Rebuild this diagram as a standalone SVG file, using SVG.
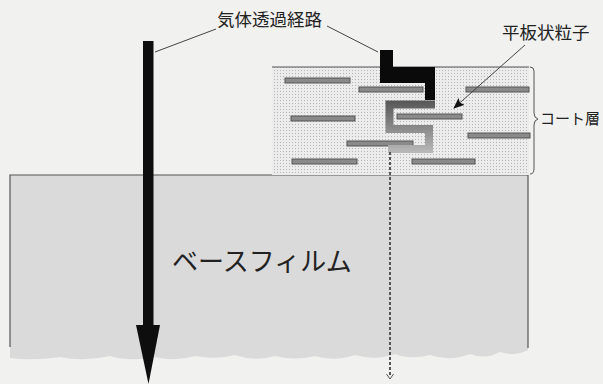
<svg xmlns="http://www.w3.org/2000/svg" width="603" height="384" viewBox="0 0 603 384">
<style>
.lbl{font-family:"Noto Sans CJK JP","Noto Sans CJK SC",sans-serif;fill:#222}
.lead{stroke:#444;stroke-width:1;fill:none}
.bar{fill:#8a8a8a;stroke:#555;stroke-width:1}
.edge{stroke:#555;stroke-width:1.2;fill:none}
</style>
<defs>
<pattern id="dots" width="3" height="3" patternUnits="userSpaceOnUse">
<rect width="3" height="3" fill="#ececec"/>
<rect x="1" y="1" width="1" height="1" fill="#b5b5b5"/>
</pattern>
<linearGradient id="pathGrad" gradientUnits="userSpaceOnUse" x1="0" y1="100" x2="0" y2="152">
<stop offset="0" stop-color="#555"/>
<stop offset="1" stop-color="#b8b8b8"/>
</linearGradient>
<marker id="tipS" markerWidth="11" markerHeight="9" refX="10" refY="4.5" orient="auto" markerUnits="userSpaceOnUse">
<path d="M0,0 L11,4.5 L0,9 L2,4.5 Z" fill="#111"/>
</marker>
</defs>
<rect width="603" height="384" fill="#f1f1f0"/>

<g id="base-film">
<path d="M10,175 H528 V350 Q515,357 500,352 Q485,360 470,354 Q450,362 430,355 Q410,360 395,354 Q375,361 355,355 Q335,362 315,356 Q295,361 275,356 Q255,362 235,355 Q215,360 195,356 Q175,362 155,357 Q130,362 110,356 Q85,362 60,357 Q35,361 10,358 Z" fill="#dadada"/>
<path class="edge" d="M10,347 V175 H528 V348"/>
<text class="lbl" x="172" y="271" font-size="26">ベースフィルム</text>
</g>

<g id="coat-layer">
<rect x="272" y="67" width="257" height="108" fill="url(#dots)"/>
<line class="edge" x1="272" y1="67" x2="529" y2="67"/>
<rect class="bar" x="285" y="78" width="65" height="5"/>
<rect class="bar" x="359" y="87" width="64" height="5"/>
<rect class="bar" x="466" y="87" width="63" height="5"/>
<rect class="bar" x="291" y="116" width="64" height="5"/>
<rect class="bar" x="397" y="114" width="65" height="5"/>
<rect class="bar" x="468" y="133" width="62" height="5"/>
<rect class="bar" x="347" y="141" width="66" height="5"/>
<rect class="bar" x="292" y="159" width="65" height="5"/>
<rect class="bar" x="412" y="159" width="63" height="5"/>
<path d="M530,67 Q534,67 534,71 V113 Q534,118 538,119 Q534,120 534,125 V169 Q534,174 530,174" fill="none" stroke="#555" stroke-width="1"/>
<text class="lbl" x="540" y="124" font-size="15">コート層</text>
</g>

<g id="gas-path">
<path d="M380,50 H393 V67 H435 V100 H425 V83 H380 Z" fill="#0a0a0a"/>
<polyline points="435,104.5 389.5,104.5 389.5,129 429,129 429,149 388,149" fill="none" stroke="url(#pathGrad)" stroke-width="8" stroke-linejoin="miter"/>
</g>

<g id="main-arrow">
<rect x="143" y="41" width="10.5" height="285" fill="#0e0e0e"/>
<path d="M136,325 H160 L148.5,384 Z" fill="#0e0e0e"/>
</g>

<g id="connectors">
<line x1="390" y1="152" x2="390" y2="376" stroke="#555" stroke-width="2" stroke-dasharray="3,2"/>
<path d="M386.5,374 L390,379 L393.5,374" fill="none" stroke="#555" stroke-width="1"/>
<line class="lead" x1="155" y1="52" x2="216" y2="29"/>
<line class="lead" x1="327" y1="26" x2="378" y2="52"/>
<line class="lead" x1="525" y1="45" x2="454" y2="108" marker-end="url(#tipS)"/>
</g>

<g id="labels">
<text class="lbl" x="217" y="26" font-size="17.5">気体透過経路</text>
<text class="lbl" x="502" y="39" font-size="17.5">平板状粒子</text>
</g>
</svg>
